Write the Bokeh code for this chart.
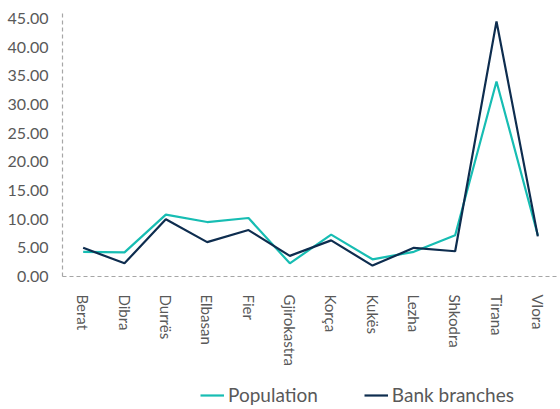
import math
from bokeh.plotting import figure
from bokeh.layouts import column
from bokeh.models import ColumnDataSource, Legend, LegendItem, NumeralTickFormatter, FixedTicker, Range1d
from bokeh.embed import file_html
from bokeh.resources import INLINE

regions = ["Berat", "Dibra", "Durrës", "Elbasan", "Fier", "Gjirokastra", "Korça",
           "Kukës", "Lezha", "Shkodra", "Tirana", "Vlora"]
population = [4.3, 4.2, 10.8, 9.5, 10.2, 2.3, 7.3, 3.0, 4.3, 7.2, 34.0, 7.2]
bank_branches = [5.0, 2.3, 10.0, 6.0, 8.1, 3.6, 6.3, 1.9, 5.0, 4.4, 44.5, 7.0]
y_ticks = [0, 5, 10, 15, 20, 25, 30, 35, 40, 45]

src = ColumnDataSource(dict(region=regions, pop=population, bank=bank_branches))

FONT = "Lato"
TXT = "#595959"
TEAL = "#17BDB3"
NAVY = "#0E2D4F"

p = figure(x_range=regions, width=558, height=368, output_backend="svg",
           toolbar_location=None, min_border_top=10, min_border_left=62,
           min_border_right=0, min_border_bottom=0)
p.y_range = Range1d(0, 46.4)

r1 = p.line("region", "pop", source=src, line_color=TEAL, line_width=2.2)
r2 = p.line("region", "bank", source=src, line_color=NAVY, line_width=2.2)

p.xgrid.visible = False
p.ygrid.visible = False
p.outline_line_color = None

for ax in (p.xaxis[0], p.yaxis[0]):
    ax.axis_line_color = "#A6A6A6"
    ax.axis_line_dash = "4 3"
    ax.axis_line_width = 1.2
    ax.major_tick_line_color = None
    ax.minor_tick_line_color = None
    ax.major_label_text_font = FONT
    ax.major_label_text_color = TXT

p.yaxis.ticker = FixedTicker(ticks=y_ticks)
p.yaxis.formatter = NumeralTickFormatter(format="0.00")
p.yaxis.major_label_text_font_size = "16px"
p.yaxis.major_label_standoff = 8

p.xaxis.major_label_orientation = -math.pi / 2
p.xaxis.major_label_text_font_size = "15px"
p.xaxis.major_label_standoff = 12

# Legend strip: same series drawn outside the visible range, only the legend shows
p2 = figure(x_range=regions, width=558, height=40, output_backend="svg",
            toolbar_location=None, x_axis_location=None, y_axis_location=None,
            min_border_top=0, min_border_left=0, min_border_right=0, min_border_bottom=0)
p2.y_range = Range1d(100, 101)
p2.xgrid.visible = False
p2.ygrid.visible = False
p2.outline_line_color = None
l1 = p2.line("region", "pop", source=src, line_color=TEAL, line_width=2.2)
l2 = p2.line("region", "bank", source=src, line_color=NAVY, line_width=2.2)

legend = Legend(items=[LegendItem(label="Population", renderers=[l1]),
                       LegendItem(label="Bank branches", renderers=[l2])],
                orientation="horizontal", location=(138, 2),
                label_text_font=FONT, label_text_font_size="19px",
                label_text_color=TXT, glyph_width=24, label_standoff=4,
                spacing=46, border_line_color=None, background_fill_alpha=0,
                margin=0, padding=2)
p2.add_layout(legend)

layout = column(p, p2, spacing=0)
open("out.html", "w").write(file_html(layout, INLINE))
